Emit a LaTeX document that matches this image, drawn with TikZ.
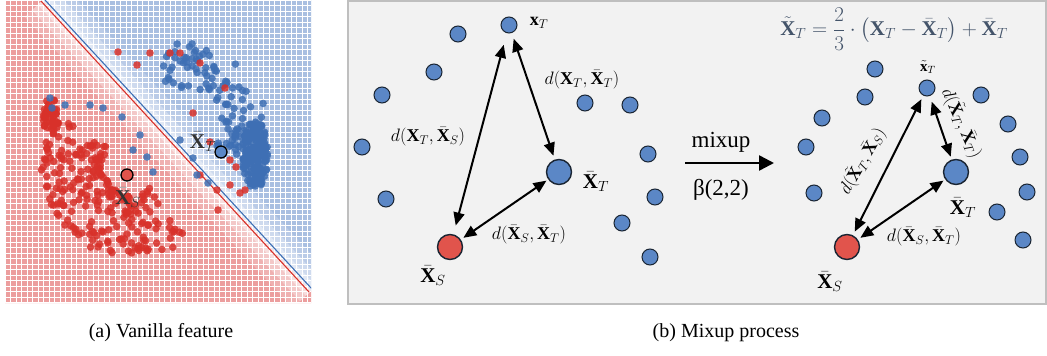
\RequirePackage{fix-cm}
\documentclass[tikz,border=0pt]{standalone}
\usepackage{amsmath}
\usepackage{fontspec}
\setmainfont{Liberation Serif}
\usetikzlibrary{arrows.meta}

\definecolor{redbg}{HTML}{EC9E9E}
\definecolor{bluebg}{HTML}{A9BFE1}
\definecolor{redpt}{HTML}{D8312A}
\definecolor{bluept}{HTML}{3E6FB4}
\definecolor{ptblue}{HTML}{5B87C6}
\definecolor{ptred}{HTML}{E1544C}
\definecolor{ptline}{HTML}{1A2533}
\definecolor{formula}{HTML}{44546A}

\tikzset{
  pt/.style={circle,draw=ptline,fill=ptblue,line width=1pt,minimum size=16pt,inner sep=0pt},
  bigpt/.style={pt,minimum size=25pt,line width=1.4pt},
  mark pt/.style={circle,draw=black,line width=1.3pt,minimum size=12pt,inner sep=0pt},
  dist/.style={{Triangle[length=13pt,width=11pt]}-{Triangle[length=13pt,width=11pt]},line width=2pt},
  lbl/.style={font=\fontsize{18}{20}\selectfont,inner sep=1pt},
  biglbl/.style={font=\fontsize{21}{23}\selectfont,inner sep=1pt},
}

\begin{document}
\begin{tikzpicture}[x=1pt,y=-1pt]
\useasboundingbox (0,0) rectangle (1047,356);

% (a) vanilla feature
\begin{scope}
\clip (5,0) rectangle (311,303);
\fill[redbg] (5,0) -- (43,0) -- (311,291) -- (311,303) -- (5,303) -- cycle;
\fill[bluebg] (43,0) -- (311,0) -- (311,291) -- cycle;
\foreach \w/\o in {50/0.2,30/0.3,14/0.4}
  \draw[white,opacity=\o,line width=\w pt] (43,0) -- (311,291);
\foreach \i in {0,...,56}{
  \draw[white,line width=0.9pt] (5+5.5*\i,0) -- (5+5.5*\i,303);
  \draw[white,line width=0.9pt] (5,5.5*\i) -- (311,5.5*\i);
}
\draw[redpt,line width=1.1pt] (41,1) -- (309,292);
\draw[bluept,line width=1.1pt] (45,0) -- (312,289);
\end{scope}

\pgfmathsetseed{17}
\foreach \k in {1,...,230}{
  \pgfmathsetmacro\aa{52+163*rnd}
  \pgfmathsetmacro\rr{28+64*rnd}
  \fill[redpt,opacity=.85] ({132+\rr*cos(\aa)},{165+\rr*sin(\aa)}) circle (3.8pt);
}
\foreach \k in {1,...,40}{
  \pgfmathsetmacro\aa{360*rnd}
  \pgfmathsetmacro\rr{sqrt(rnd)}
  \fill[redpt,opacity=.85] ({51+8*\rr*cos(\aa)},{117+19*\rr*sin(\aa)}) circle (3.8pt);
}
\foreach \k in {1,...,110}{
  \pgfmathsetmacro\aa{245+150*rnd}
  \pgfmathsetmacro\rr{82-45*rnd}
  \fill[bluept,opacity=.85] ({185+\rr*cos(\aa)},{125+\rr*sin(\aa)}) circle (3.8pt);
}
\foreach \k in {1,...,170}{
  \pgfmathsetmacro\aa{360*rnd}
  \pgfmathsetmacro\rr{sqrt(rnd)}
  \fill[bluept,opacity=.85] ({255+13*\rr*cos(\aa)},{155+34*\rr*sin(\aa)}) circle (3.8pt);
}
% points on the wrong side
\foreach \p in {(118,52),(150,53),(170,53),(180,53),(137,65),(200,63),(225,88),(193,113),
  (210,142),(230,160),(236,167),(245,190),(240,193),(217,190),(230,185),(200,175),(218,210)}
  \fill[redpt,opacity=.85] \p circle (3.8pt);
\foreach \p in {(50,98),(52,108),(65,105),(90,105),(103,108),(122,117),(140,135),(133,150),
  (147,157),(153,172),(180,140),(193,158),(197,175),(208,183)}
  \fill[bluept,opacity=.85] \p circle (3.8pt);

\node[mark pt,fill=ptred] (vs) at (127,175) {};
\node[mark pt,fill=ptblue] (vt) at (221,152) {};
\node[biglbl,text=black!80] (vtl) at (203,142) {$\bar{\mathbf{X}}_T$};
\node[biglbl,text=black!80] (vsl) at (128,198) {$\bar{\mathbf{X}}_S$};

% (b) mixup process
\draw[gray!50,fill=gray!10,line width=2pt] (348,1) rectangle (1046,304);

\node[pt] (a1) at (458,34) {};
\node[pt] (a2) at (434,72) {};
\node[pt] (a3) at (382,95) {};
\node[pt] (a4) at (362,147) {};
\node[pt] (a5) at (386,199) {};
\node[pt] (a6) at (585,103) {};
\node[pt] (a7) at (630,105) {};
\node[pt] (a8) at (648,154) {};
\node[pt] (a9) at (655,197) {};
\node[pt] (a10) at (622,223) {};
\node[pt] (a11) at (650,257) {};
\node[pt] (xt) at (509,25) {};
\node[bigpt] (xbt) at (559,172) {};
\node[bigpt,fill=ptred] (xbs) at (450,247) {};

\node[lbl] (xtl) at (539,23) {$\mathbf{x}_T$};
\node[biglbl] (xbtl) at (596,182) {$\bar{\mathbf{X}}_T$};
\node[biglbl] (xbsl) at (433,276) {$\bar{\mathbf{X}}_S$};

\draw[dist,shorten <=9pt,shorten >=12pt] (xbs) -- (xt);
\draw[dist,shorten <=6pt,shorten >=4pt] (xt) -- (xbt);
\draw[dist,shorten <=3pt,shorten >=2pt] (xbs) -- (xbt);

\node[lbl] (d1) at (428,137) {$d(\mathbf{X}_T,\bar{\mathbf{X}}_S)$};
\node[lbl] (d2) at (582,80) {$d(\mathbf{X}_T,\bar{\mathbf{X}}_T)$};
\node[lbl] (d3) at (529,235) {$d(\bar{\mathbf{X}}_S,\bar{\mathbf{X}}_T)$};

\coordinate (mx1) at (685,163);
\coordinate (mx2) at (774,163);
\draw[line width=2.5pt,-{Triangle[length=15pt,width=15pt]}] (mx1) -- (mx2);
\node[font=\fontsize{23}{25}\selectfont] (mxl) at (721,142) {mixup};
\node[font=\fontsize{23}{25}\selectfont] (bel) at (721,190) {β(2,2)};

\node[pt] (b1) at (875,69) {};
\node[pt] (b2) at (865,97) {};
\node[pt] (b3) at (822,118) {};
\node[pt] (b4) at (806,147) {};
\node[pt] (b5) at (814,193) {};
\node[pt] (b6) at (981,95) {};
\node[pt] (b7) at (1008,124) {};
\node[pt] (b8) at (1020,157) {};
\node[pt] (b9) at (1027,192) {};
\node[pt] (b10) at (997,212) {};
\node[pt] (b11) at (1023,240) {};
\node[pt] (yt) at (927,88) {};
\node[bigpt] (ybt) at (956,172) {};
\node[bigpt,fill=ptred] (ybs) at (847,247) {};

\node[font=\fontsize{15}{17}\selectfont,inner sep=1pt] (ytl) at (928,67) {$\tilde{\mathbf{x}}_T$};
\node[biglbl] (ybtl) at (963,208) {$\bar{\mathbf{X}}_T$};
\node[biglbl] (ybsl) at (830,282) {$\bar{\mathbf{X}}_S$};

\draw[dist,shorten <=4pt,shorten >=4pt] (ybs) -- (yt);
\draw[dist,shorten <=6pt,shorten >=3pt] (yt) -- (ybt);
\draw[dist,shorten <=3pt,shorten >=2pt] (ybs) -- (ybt);

\node[lbl,rotate=60] (e1) at (862,161) {$d(\tilde{\mathbf{X}}_T,\bar{\mathbf{X}}_S)$};
\node[lbl,rotate=-66] (e2) at (962,123) {$d(\tilde{\mathbf{X}}_T,\bar{\mathbf{X}}_T)$};
\node[lbl] (e3) at (924,237) {$d(\bar{\mathbf{X}}_S,\bar{\mathbf{X}}_T)$};

\node[text=formula,font=\fontsize{21}{23}\selectfont] (frm) at (894,29)
  {$\displaystyle \tilde{\mathbf{X}}_T=\frac{2}{3}\cdot\bigl(\mathbf{X}_T-\bar{\mathbf{X}}_T\bigr)+\bar{\mathbf{X}}_T$};

% captions
\node[font=\fontsize{20}{22}\selectfont] (capa) at (161,333) {(a) Vanilla feature};
\node[font=\fontsize{20}{22}\selectfont] (capb) at (726,333) {(b) Mixup process};
\end{tikzpicture}
\end{document}
